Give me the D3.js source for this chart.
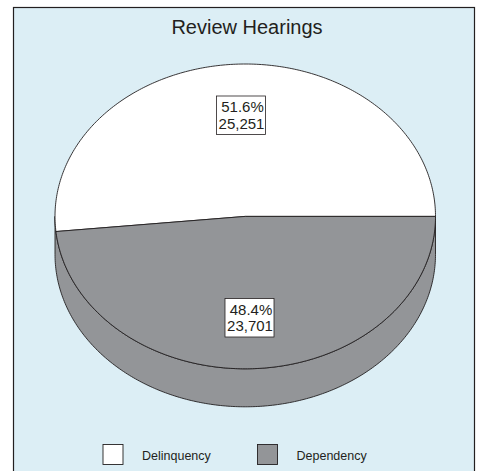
<!DOCTYPE html>
<html>

<head>
  <meta charset="utf-8">
  <title>Review Hearings</title>
  <script src="https://cdnjs.cloudflare.com/ajax/libs/d3/7.8.5/d3.min.js"></script>

  <style>
    html, body {
      margin: 0;
      padding: 0;
      background: #fff;
      overflow: hidden;
    }

    svg {
      display: block;
    }

    text {
      font-family: "Liberation Sans", Arial, sans-serif;
      fill: #231f20;
    }
  </style>
</head>

<body>
  <script>
    var categories = ["Delinquency", "Dependency"];
    var hearings = [25251, 23701];
    var percentLabels = ["51.6%", "48.4%"];
    var countLabels = ["25,251", "23,701"];
    var sliceColors = ["#ffffff", "#939598"];

    var ink = "#231f20";
    var depth = 38;

    var svg = d3.select("body").append("svg")
      .attr("width", 478)
      .attr("height", 471);

    // panel, no bottom edge in the original crop
    svg.append("rect")
      .attr("x", 13.5)
      .attr("y", 7.5)
      .attr("width", 461)
      .attr("height", 480)
      .attr("fill", "#dceef5")
      .attr("stroke", ink)
      .attr("stroke-width", 1.2);

    svg.append("text")
      .attr("x", 247)
      .attr("y", 34)
      .attr("text-anchor", "middle")
      .attr("font-size", 20)
      .text("Review Hearings");

    // unit circle -> flattened ellipse
    var x = d3.scaleLinear().domain([-1, 1]).range([55, 435.5]);
    var y = d3.scaleLinear().domain([-1, 1]).range([64, 368.8]);

    // starts at 3 o'clock and runs clockwise, dependency first
    var pie = d3.pie()
      .sort(null)
      .startAngle(Math.PI / 2)
      .endAngle(Math.PI / 2 + 2 * Math.PI);
    var slices = pie([hearings[1], hearings[0]]);
    var dependency = slices[0];
    var delinquency = slices[1];

    var rim = d3.line()
      .x(function (a) { return x(Math.sin(a)); })
      .y(function (a) { return y(-Math.cos(a)); });

    function sweep(a0, a1) {
      var n = 240;
      return d3.range(n + 1).map(function (i) {
        return a0 + (a1 - a0) * i / n;
      });
    }

    // side wall, front half of the disc
    var front = sweep(Math.PI / 2, 3 * Math.PI / 2);
    var frontLine = d3.line()
      .x(function (a) { return x(Math.sin(a)); })
      .y(function (a) { return y(-Math.cos(a)) + depth; });

    svg.append("path")
      .attr("d", rim(front) + "L" + frontLine(front.slice().reverse()).slice(1) + "Z")
      .attr("fill", sliceColors[1])
      .attr("stroke", ink)
      .attr("stroke-width", 0.9);

    // top face
    var faces = [
      { slice: delinquency, color: sliceColors[0] },
      { slice: dependency, color: sliceColors[1] }
    ];

    svg.selectAll("path.face").data(faces).enter().append("path")
      .attr("class", "face")
      .attr("d", function (d) {
        var pts = sweep(d.slice.startAngle, d.slice.endAngle);
        return rim(pts) + "L" + x(0) + "," + y(0) + "Z";
      })
      .attr("fill", function (d) { return d.color; })
      .attr("stroke", ink)
      .attr("stroke-width", 0.9)
      .attr("stroke-linejoin", "round");

    // value boxes
    var boxes = [
      { x: 216.5, y: 96, i: 0 },
      { x: 225, y: 298.5, i: 1 }
    ];

    var box = svg.selectAll("g.value").data(boxes).enter().append("g")
      .attr("class", "value")
      .attr("transform", function (d) { return "translate(" + d.x + "," + d.y + ")"; });

    box.append("rect")
      .attr("width", 49)
      .attr("height", 38.5)
      .attr("fill", "#fff")
      .attr("stroke", ink)
      .attr("stroke-width", 0.8);

    box.append("text")
      .attr("x", 26)
      .attr("y", 16)
      .attr("text-anchor", "middle")
      .attr("font-size", 15)
      .text(function (d) { return percentLabels[d.i]; });

    box.append("text")
      .attr("x", 25)
      .attr("y", 32.5)
      .attr("text-anchor", "middle")
      .attr("font-size", 15)
      .text(function (d) { return countLabels[d.i]; });

    // legend
    var legendX = d3.scaleOrdinal().domain(categories).range([103, 257.5]);

    var legend = svg.selectAll("g.legend").data(categories).enter().append("g")
      .attr("class", "legend")
      .attr("transform", function (d) { return "translate(" + legendX(d) + ",444.5)"; });

    legend.append("rect")
      .attr("width", 20)
      .attr("height", 20)
      .attr("fill", function (d, i) { return sliceColors[i]; })
      .attr("stroke", ink)
      .attr("stroke-width", 0.9);

    legend.append("text")
      .attr("x", 39)
      .attr("y", 15)
      .attr("font-size", 12.5)
      .text(function (d) { return d; });
  </script>
</body>

</html>
